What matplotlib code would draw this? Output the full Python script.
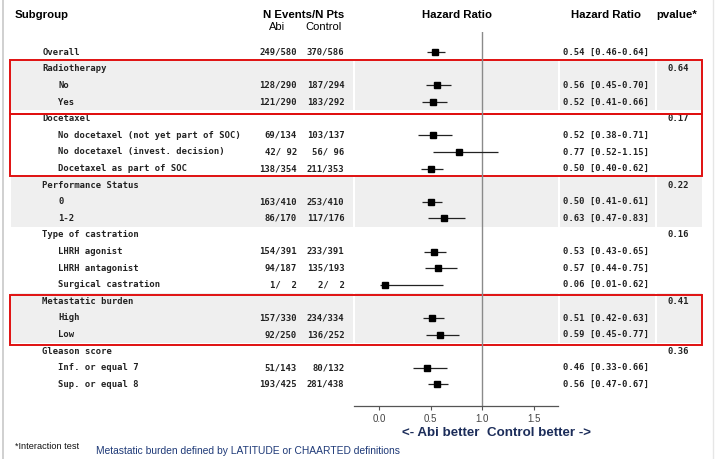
import matplotlib
matplotlib.use("Agg")
import matplotlib.pyplot as plt
from matplotlib.patches import Rectangle

# ---------------- data ----------------
labels = ["Overall", "Radiotherapy", "No", "Yes", "Docetaxel",
          "No docetaxel (not yet part of SOC)", "No docetaxel (invest. decision)",
          "Docetaxel as part of SOC", "Performance Status", "0", "1-2",
          "Type of castration", "LHRH agonist", "LHRH antagonist",
          "Surgical castration", "Metastatic burden", "High", "Low",
          "Gleason score", "Inf. or equal 7", "Sup. or equal 8"]
is_header = [True, True, False, False, True, False, False, False, True, False, False,
             True, False, False, False, True, False, False, True, False, False]
abi_events = ["249/580", "", "128/290", "121/290", "", "69/134", "42/ 92", "138/354", "",
              "163/410", "86/170", "", "154/391", "94/187", "1/  2", "", "157/330",
              "92/250", "", "51/143", "193/425"]
ctrl_events = ["370/586", "", "187/294", "183/292", "", "103/137", "56/ 96", "211/353", "",
               "253/410", "117/176", "", "233/391", "135/193", "2/  2", "", "234/334",
               "136/252", "", "80/132", "281/438"]
hr = [0.54, None, 0.56, 0.52, None, 0.52, 0.77, 0.50, None, 0.50, 0.63, None,
      0.53, 0.57, 0.06, None, 0.51, 0.59, None, 0.46, 0.56]
lo = [0.46, None, 0.45, 0.41, None, 0.38, 0.52, 0.40, None, 0.41, 0.47, None,
      0.43, 0.44, 0.01, None, 0.42, 0.45, None, 0.33, 0.47]
hi = [0.64, None, 0.70, 0.66, None, 0.71, 1.15, 0.62, None, 0.61, 0.83, None,
      0.65, 0.75, 0.62, None, 0.63, 0.77, None, 0.66, 0.67]
pvalues = ["", "0.64", "", "", "0.17", "", "", "", "0.22", "", "", "0.16",
           "", "", "", "0.41", "", "", "0.36", "", ""]
shaded_groups = [(1, 3), (8, 10), (15, 17)]
xticks = [0.0, 0.5, 1.0, 1.5]

# ---------------- layout (pixels) ----------------
W, H = 715, 459
fig = plt.figure(figsize=(W / 100, H / 100), dpi=100)
bg = fig.add_axes([0, 0, 1, 1])
bg.set_xlim(0, W)
bg.set_ylim(H, 0)
bg.axis("off")

row0, dy = 52.3, 16.6
def ry(i):
    return row0 + dy * i

mono = dict(family="DejaVu Sans Mono", fontweight="bold", fontsize=6.4, color="#222222")
sans = "Liberation Sans"

# border lines
bg.plot([2.5, 2.5], [0, H], color="#c8c8c8", lw=1.2)
bg.plot([712.5, 712.5], [0, H], color="#e6e6e6", lw=1.0)

# shaded bands
segs = [(11, 352.5), (354.5, 557.5), (559.5, 655), (657, 702)]
for a, b in shaded_groups:
    y0, y1 = ry(a) - dy / 2, ry(b) + dy / 2
    for x0, x1 in segs:
        bg.add_patch(Rectangle((x0, y0), x1 - x0, y1 - y0, facecolor="#efefef",
                               edgecolor="none", zorder=0))

# red boxes (pixel extents)
box_extents = [(59.5, 113.5), (113.5, 175.5), (295.0, 344.5)]
for y0, y1 in box_extents:
    bg.add_patch(Rectangle((9.5, y0), 692.5, y1 - y0, facecolor="none",
                           edgecolor="#e01010", lw=1.4, zorder=5))

# headers
bg.text(15, 15, "Subgroup", family=sans, fontweight="bold", fontsize=8.2, va="center")
bg.text(303.5, 15, "N Events/N Pts", family=sans, fontweight="bold", fontsize=8.2,
        va="center", ha="center")
bg.text(277, 26.5, "Abi", family=sans, fontsize=8.0, va="center", ha="center")
bg.text(324, 26.5, "Control", family=sans, fontsize=8.0, va="center", ha="center")
bg.text(456.5, 15, "Hazard Ratio", family=sans, fontweight="bold", fontsize=8.2,
        va="center", ha="center")
bg.text(606, 15, "Hazard Ratio", family=sans, fontweight="bold", fontsize=8.2,
        va="center", ha="center")
bg.text(677, 15, "pvalue*", family=sans, fontweight="bold", fontsize=8.2,
        va="center", ha="center")

# table rows
for i, lab in enumerate(labels):
    y = ry(i)
    bg.text(42.5 if is_header[i] else 58.3, y, lab, va="center", ha="left", **mono)
    if abi_events[i]:
        bg.text(297, y, abi_events[i], va="center", ha="right", **mono)
        bg.text(344.5, y, ctrl_events[i], va="center", ha="right", **mono)
    if hr[i] is not None:
        bg.text(563, y, f"{hr[i]:.2f} [{lo[i]:.2f}-{hi[i]:.2f}]", va="center",
                ha="left", **mono)
    if pvalues[i]:
        bg.text(688.5, y, pvalues[i], va="center", ha="right", **mono)

# footer
bg.text(15, 446.5, "*Interaction test", family=sans, fontsize=6.6, va="center",
        color="#111111")
bg.text(96, 450.5, "Metastatic burden defined by LATITUDE or CHAARTED definitions",
        family=sans, fontsize=7.4, va="center", color="#1f3a78")
bg.text(497, 432.5, "<- Abi better  Control better ->", family=sans, fontweight="bold",
        fontsize=9.6, va="center", ha="center", color="#1c2d5a")

# ---------------- forest axes ----------------
left_px, right_px, top_px, bot_px = 354, 558, 32, 406
ax = fig.add_axes([left_px / W, 1 - bot_px / H, (right_px - left_px) / W,
                   (bot_px - top_px) / H])
ax.patch.set_alpha(0)
x0px, scale = 379.3, 103.0
ax.set_xlim((left_px - x0px) / scale, (right_px - x0px) / scale)
ax.set_ylim((bot_px - row0) / dy, (top_px - row0) / dy)
for s in ["top", "right", "left"]:
    ax.spines[s].set_visible(False)
ax.spines["bottom"].set_color("#555555")
ax.spines["bottom"].set_linewidth(0.9)
ax.set_yticks([])
ax.set_xticks(xticks)
ax.set_xticklabels([f"{t:.1f}" for t in xticks])
ax.tick_params(axis="x", length=3, width=0.8, color="#555555", labelsize=7,
               labelcolor="#444444", pad=3)
for lbl in ax.get_xticklabels():
    lbl.set_family(sans)
ax.axvline(1.0, color="#8a8a8a", lw=1.0, zorder=1)

for i in range(len(labels)):
    if hr[i] is None:
        continue
    ax.plot([lo[i], hi[i]], [i, i], color="#222222", lw=0.9, zorder=2,
            solid_capstyle="butt")
    ax.plot(hr[i], i, marker="s", color="black", markersize=4.6, zorder=3, ls="none")

fig.savefig("out.png", dpi=100)
